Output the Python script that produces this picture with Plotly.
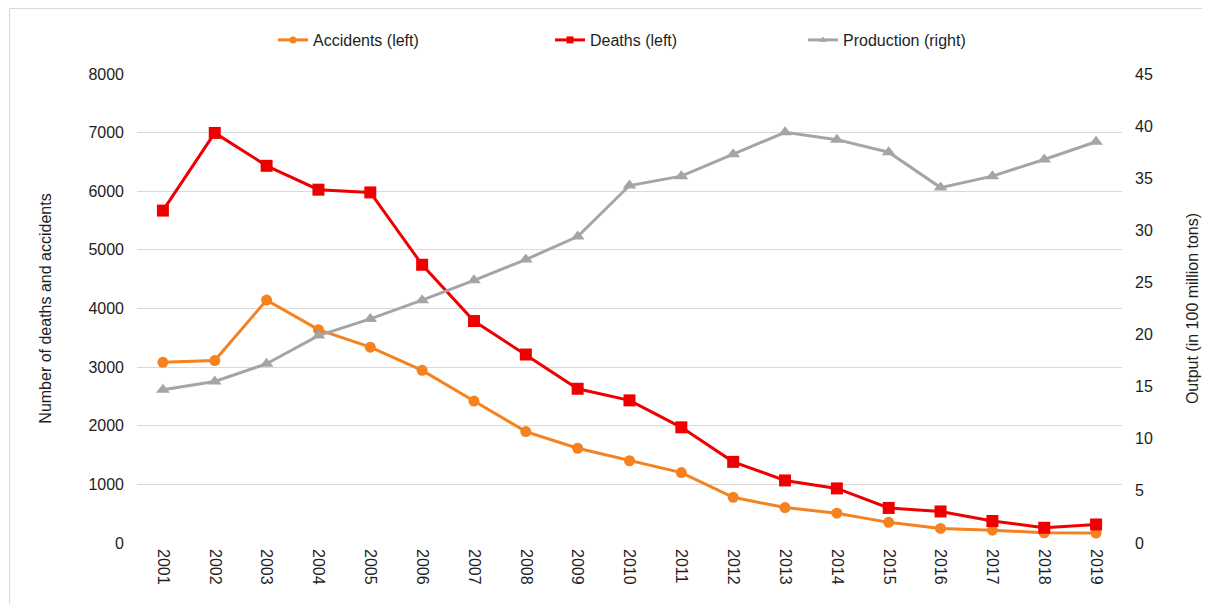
import plotly.graph_objects as go

years = [str(y) for y in range(2001, 2020)]
accidents = [3082, 3112, 4143, 3639, 3341, 2945, 2421, 1900, 1616, 1403,
             1201, 779, 604, 509, 352, 249, 219, 175, 170]
deaths = [5670, 6995, 6434, 6027, 5980, 4746, 3786, 3215, 2631, 2433,
          1973, 1384, 1067, 931, 598, 538, 375, 260, 316]
production = [14.7, 15.5, 17.2, 19.9, 21.5, 23.3, 25.2, 27.2, 29.4, 34.3,
              35.2, 37.3, 39.4, 38.7, 37.5, 34.1, 35.2, 36.8, 38.5]

ORANGE = "#F5821F"
RED = "#EE0000"
GRAY = "#A5A5A5"
TXT = "#1E1E1E"
FONT = "Liberation Sans, Arial, sans-serif"

# the page body has an 8px margin, so the figure is a bit smaller than the
# window; OFF converts window pixels to figure pixels
OFF = 8
W, H = 1194, 596
L, R, T, B = 129, 80, 66, 61
PW, PH = W - L - R, H - T - B


def px_x(px):
    return (px - OFF - L) / PW


def px_y(py):
    return (H - B - (py - OFF)) / PH


fig = go.Figure()

series = [
    ("Accidents (left)", accidents, ORANGE, "circle", 11, "y", "legend"),
    ("Deaths (left)", deaths, RED, "square", 12, "y", "legend2"),
    ("Production (right)", production, GRAY, "triangle-up", 12, "y2", "legend3"),
]

for name, vals, color, sym, size, yax, leg in series:
    fig.add_trace(go.Scatter(
        x=years, y=vals, mode="lines+markers", yaxis=yax, showlegend=False,
        line=dict(color=color, width=3),
        marker=dict(symbol=sym, size=size, color=color),
        name=name))
    # legend-only entry with smaller markers
    fig.add_trace(go.Scatter(
        x=[None], y=[None], mode="lines+markers", yaxis=yax, legend=leg,
        line=dict(color=color, width=3),
        marker=dict(symbol=sym, size=7, color=color),
        name=name))

legend_style = dict(orientation="h", yanchor="middle", xanchor="left",
                    font=dict(family=FONT, size=16, color=TXT),
                    bgcolor="rgba(0,0,0,0)", itemwidth=30)

fig.update_layout(
    width=W, height=H,
    margin=dict(l=L, r=R, t=T, b=B),
    paper_bgcolor="white", plot_bgcolor="white",
    font=dict(family=FONT, size=16, color=TXT),
    legend=dict(x=px_x(273), y=px_y(40), **legend_style),
    legend2=dict(x=px_x(550), y=px_y(40), **legend_style),
    legend3=dict(x=px_x(803), y=px_y(40), **legend_style),
    xaxis=dict(type="category", range=[-0.5, len(years) - 0.5],
               tickangle=90, showgrid=False, showline=False, ticks="",
               tickfont=dict(size=16, color=TXT), ticklabelstandoff=5,
               automargin=False),
    yaxis=dict(range=[0, 8000], dtick=1000, showgrid=True,
               gridcolor="#D9D9D9", gridwidth=1, zeroline=False,
               showline=False, ticks="", ticklabelstandoff=12,
               tickfont=dict(size=16, color=TXT), automargin=False,
               title=dict(text="Number of deaths and accidents", standoff=32,
                          font=dict(size=16, color=TXT))),
    yaxis2=dict(range=[0, 45], dtick=5, overlaying="y", side="right",
                showgrid=False, zeroline=False, showline=False, ticks="",
                ticklabelstandoff=12, tickfont=dict(size=16, color=TXT),
                automargin=False,
                title=dict(text="Output (in 100 million tons)", standoff=34,
                           font=dict(size=16, color=TXT))),
    shapes=[
        dict(type="line", xref="paper", yref="paper",
             x0=px_x(9.5), x1=px_x(1300), y0=px_y(8.5), y1=px_y(8.5),
             line=dict(color="#D9D9D9", width=1), layer="below"),
        dict(type="line", xref="paper", yref="paper",
             x0=px_x(9.5), x1=px_x(9.5), y0=px_y(8.5), y1=px_y(700),
             line=dict(color="#D9D9D9", width=1), layer="below"),
    ],
)

fig.write_html("out.html")
